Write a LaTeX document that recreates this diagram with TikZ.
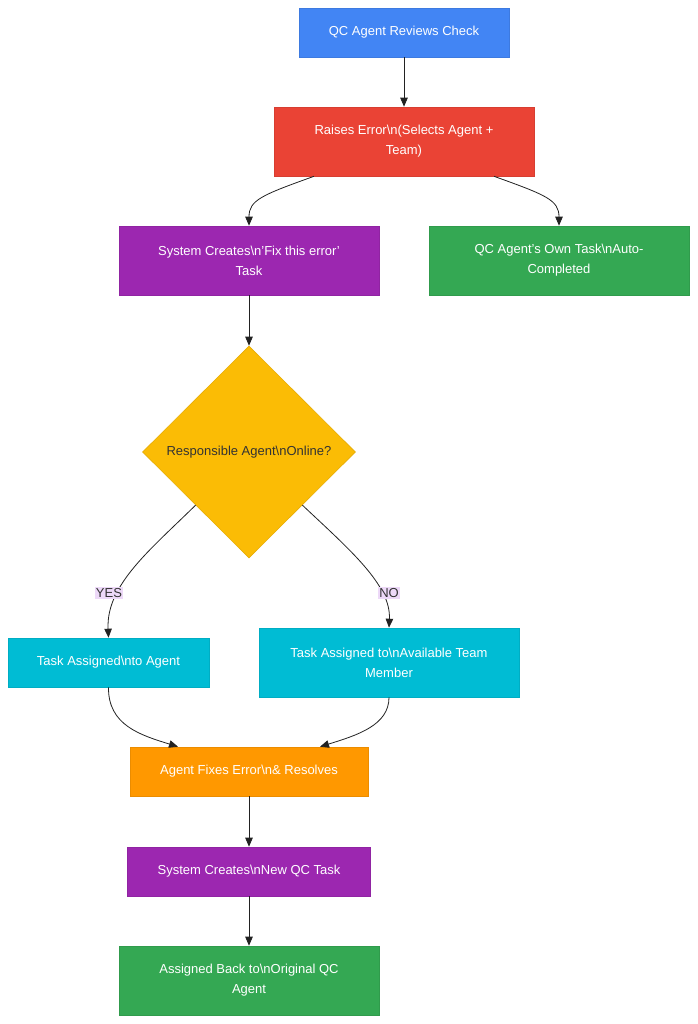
\documentclass[tikz,border=0pt]{standalone}
\usepackage{fontspec}
\setmainfont{Liberation Sans}
\usetikzlibrary{arrows.meta,calc,shapes.geometric}
\definecolor{cblue}{HTML}{4285F4}
\definecolor{cred}{HTML}{EA4335}
\definecolor{cpurple}{HTML}{9C27B0}
\definecolor{cgreen}{HTML}{34A853}
\definecolor{cyellow}{HTML}{FBBC05}
\definecolor{ccyan}{HTML}{00BCD4}
\definecolor{corange}{HTML}{FF9800}
\definecolor{clabel}{HTML}{EDD9F8}
\definecolor{cline}{HTML}{222222}
\definecolor{ctext}{HTML}{333333}
\tikzset{
  box/.style={rectangle, draw=#1!92!black, fill=#1, line width=0.6pt, inner sep=0pt,
    text=white, align=center, font=\fontsize{13pt}{20pt}\selectfont},
  dec/.style={diamond, draw=cyellow!92!black, fill=cyellow, line width=0.6pt, inner sep=0pt,
    minimum width=213pt, minimum height=212pt, aspect=1, text=ctext, align=center,
    font=\fontsize{13pt}{20pt}\selectfont},
  conn/.style={draw=cline, line width=0.8pt, -{Triangle[length=9pt,width=7.5pt]}},
  lbl/.style={fill=clabel, text=ctext, inner sep=1pt, font=\fontsize{13pt}{16pt}\selectfont}
}
\begin{document}
\begin{tikzpicture}[x=1pt,y=-1pt]
\useasboundingbox (0,0) rectangle (697,1024);
\node[box=cblue, minimum width=210pt, minimum height=49pt] (A) at (404,32.5) {QC Agent Reviews Check};
\node[box=cred, minimum width=260pt, minimum height=69pt] (B) at (404,141.5) {Raises Error\textbackslash n(Selects Agent +\\Team)};
\node[box=cpurple, minimum width=260pt, minimum height=69pt] (C) at (249,260.5) {System Creates\textbackslash n'Fix this error'\\Task};
\node[box=cgreen, minimum width=260pt, minimum height=69pt] (D) at (559,260.5) {QC Agent's Own Task\textbackslash nAuto-\\Completed};
\node[dec] (E) at (249,452) {Responsible Agent\textbackslash nOnline?};
\node[box=ccyan, minimum width=201pt, minimum height=49pt] (F) at (108.5,662.5) {Task Assigned\textbackslash nto Agent};
\node[box=ccyan, minimum width=260pt, minimum height=69pt] (G) at (389,662.5) {Task Assigned to\textbackslash nAvailable Team\\Member};
\node[box=corange, minimum width=238pt, minimum height=49pt] (H) at (249,771.5) {Agent Fixes Error\textbackslash n\& Resolves};
\node[box=cpurple, minimum width=243pt, minimum height=49pt] (I) at (249,871.5) {System Creates\textbackslash nNew QC Task};
\node[box=cgreen, minimum width=260pt, minimum height=69pt] (J) at (249,980.5) {Assigned Back to\textbackslash nOriginal QC\\Agent};

\draw[conn] (A.south) -- (B.north);
\draw[conn] ([xshift=-90pt]B.south) .. controls (262,195) and (249,200) .. (C.north);
\draw[conn] ([xshift=90pt]B.south) .. controls (546,195) and (559,200) .. (D.north);
\draw[conn] (C.south) -- (E.north);
\draw[conn] ($(E.west)!0.5!(E.south)$) .. controls (150,550) and (106,585) .. (F.north);
\draw[conn] ($(E.east)!0.5!(E.south)$) .. controls (350,550) and (391,585) .. (G.north);
\draw[conn] (F.south) .. controls (108,725) and (140,735) .. ([xshift=-71pt]H.north);
\draw[conn] (G.south) .. controls (389,725) and (358,735) .. ([xshift=71pt]H.north);
\draw[conn] (H.south) -- (I.north);
\draw[conn] (I.south) -- (J.north);

\node[lbl] (yes) at (109,593) {YES};
\node[lbl] (no) at (389,593) {NO};
\end{tikzpicture}
\end{document}
